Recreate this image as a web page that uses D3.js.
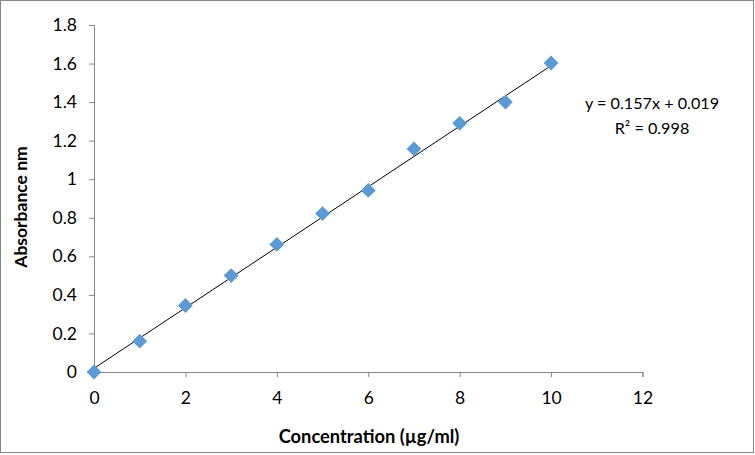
<!DOCTYPE html>
<html>
<head>
<meta charset="utf-8">
<script src="https://cdn.jsdelivr.net/npm/d3@7"></script>
<style>
  body { margin: 0; background: #fff; }
  text { font-family: Lato, "Open Sans", sans-serif; fill: #000; }
</style>
</head>
<body>
<svg id="chart" width="755" height="455"></svg>
<script>
const concentration = [0, 1, 2, 3, 4, 5, 6, 7, 8, 9, 10]
const absorbance = [0, 0.16, 0.345, 0.50, 0.662, 0.822, 0.942, 1.157, 1.29, 1.40, 1.603]
const xTicks = [0, 2, 4, 6, 8, 10, 12]
const yTicks = [0, 0.2, 0.4, 0.6, 0.8, 1, 1.2, 1.4, 1.6, 1.8]
const slope = 0.157
const intercept = 0.019
const equationLines = ['y = 0.157x + 0.019', 'R² = 0.998']

const svg = d3.select('#chart')

svg.append('rect')
  .attr('x', 0.5).attr('y', 0.5)
  .attr('width', 753).attr('height', 452)
  .attr('fill', '#fff').attr('stroke', '#868686')

const x = d3.scaleLinear().domain([0, 12]).range([94, 642.5])
const y = d3.scaleLinear().domain([0, 1.8]).range([372, 25])

const xAxis = svg.append('g')
  .attr('transform', `translate(0,${ y(0) })`)
  .call(d3.axisBottom(x).tickValues(xTicks).tickSize(5).tickPadding(15)
    .tickFormat(d3.format('d')))
const yAxis = svg.append('g')
  .attr('transform', `translate(${ x(0) },0)`)
  .call(d3.axisLeft(y).tickValues(yTicks).tickSize(5).tickPadding(12)
    .tickFormat(d => d === 0 || d === 1 ? String(d) : d.toFixed(1)))

for (const a of [xAxis, yAxis]) {
  a.select('.domain').attr('stroke', '#868686')
  a.selectAll('.tick line').attr('stroke', '#868686')
  a.selectAll('.tick text').attr('font-size', 17.5)
}

// trend line
svg.append('line')
  .attr('x1', x(0)).attr('y1', y(intercept))
  .attr('x2', x(10)).attr('y2', y(slope * 10 + intercept))
  .attr('stroke', '#000').attr('stroke-width', 1)

// data points
const diamond = d3.symbol().type(d3.symbolDiamond2).size(140)
svg.append('g')
  .selectAll('path')
  .data(concentration)
  .enter()
  .append('path')
  .attr('d', diamond)
  .attr('transform', (d, i) => `translate(${ x(d) },${ y(absorbance[i]) })`)
  .attr('fill', '#5B9BD5')

svg.append('text')
  .attr('x', 652).attr('y', 109)
  .attr('text-anchor', 'middle').attr('font-size', 16.2)
  .selectAll('tspan')
  .data(equationLines)
  .enter()
  .append('tspan')
  .attr('x', 652)
  .attr('dy', (d, i) => i === 0 ? 0 : 25)
  .text(d => d)

svg.append('text')
  .attr('x', 369).attr('y', 443)
  .attr('text-anchor', 'middle')
  .attr('font-size', 18.3).attr('font-weight', 'bold')
  .text('Concentration (µg/ml)')

svg.append('text')
  .attr('transform', 'translate(27,207) rotate(-90)')
  .attr('text-anchor', 'middle')
  .attr('font-size', 17.5).attr('font-weight', 'bold')
  .text('Absorbance nm')
</script>
</body>
</html>
